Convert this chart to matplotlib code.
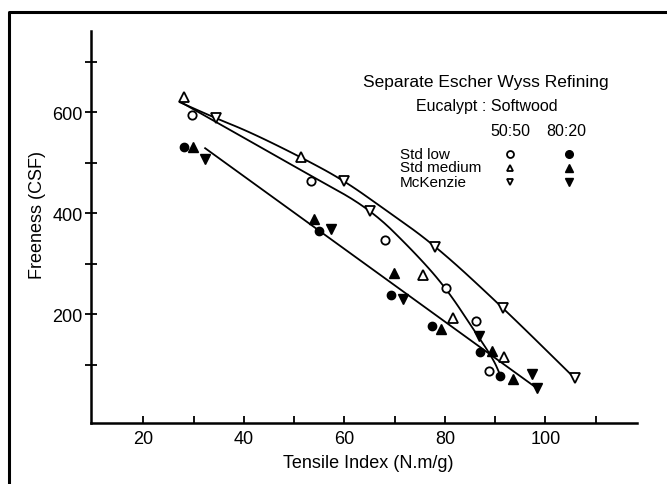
import matplotlib
matplotlib.use("Agg")
import matplotlib.pyplot as plt
from matplotlib.lines import Line2D
import numpy as np

plt.rcParams['font.family'] = ['Liberation Sans', 'DejaVu Sans']

# points: tensile index (N.m/g), freeness (CSF)
std_low_50_x = [29.7, 53.3, 68.0, 80.2, 86.2, 88.8]
std_low_50_y = [595, 463, 347, 251, 186, 87]
std_med_50_x = [28.0, 51.4, 75.6, 81.6, 91.7]
std_med_50_y = [630, 511, 277, 193, 114]
mck_50_x = [34.5, 60.0, 65.1, 78.1, 91.5, 105.8]
mck_50_y = [589, 464, 404, 334, 213, 73]

std_low_80_x = [28.1, 55.0, 69.2, 77.5, 87.0, 91.0]
std_low_80_y = [531, 364, 237, 176, 124, 77]
std_med_80_x = [29.8, 54.0, 69.9, 79.3, 89.3, 93.5]
std_med_80_y = [532, 389, 282, 171, 127, 72]
mck_80_x = [32.3, 57.4, 71.7, 86.7, 97.3, 98.3]
mck_80_y = [508, 368, 230, 157, 81, 53]

# hand drawn fit lines, read as knots
curve_top_x = [27.3, 34.3, 41.2, 51.4, 59.9, 68.0, 78.1, 91.5, 105.8]
curve_top_y = [620, 589, 561, 511, 465, 408, 336, 213, 73]
curve_mid_x = [27.7, 41.2, 53.4, 65.1, 74.1, 80.2, 86.0, 89.6, 91.0]
curve_mid_y = [619, 543, 474, 409, 321, 252, 165, 111, 79]
curve_low_x = [32.3, 98.3]
curve_low_y = [529, 53]

x_ticks = [20, 30, 40, 50, 60, 70, 80, 90, 100, 110]
x_labels = ['20', '', '40', '', '60', '', '80', '', '100', '']
y_ticks = [100, 200, 300, 400, 500, 600, 700]
y_labels = ['', '200', '', '400', '', '600', '']

W, H = 667, 485
def fx(px):
    return px / W
def fy(py):
    return 1 - py / H

def chaikin(xs, ys, n=3):
    # corner cutting so the drawn curve has no kinks, ends kept
    p = np.column_stack([xs, ys]).astype(float)
    for _ in range(n):
        q = [p[0]]
        for a, b in zip(p[:-1], p[1:]):
            q.append(0.75 * a + 0.25 * b)
            q.append(0.25 * a + 0.75 * b)
        q.append(p[-1])
        p = np.array(q)
    return p[:, 0], p[:, 1]

fig = plt.figure(figsize=(W / 100, H / 100), dpi=100)
ax = fig.add_axes([fx(91), fy(424.3), (637 - 91) / W, (424.3 - 31.7) / H])

for cx, cy in [(curve_top_x, curve_top_y), (curve_mid_x, curve_mid_y),
               (curve_low_x, curve_low_y)]:
    sx, sy = chaikin(cx, cy)
    ax.plot(sx, sy, color='black', lw=1.3, zorder=2)

ms = 6.5
ax.plot(std_low_50_x, std_low_50_y, 'o', mfc='white', mec='black', mew=1.3, ms=ms - 0.5, zorder=3)
ax.plot(std_med_50_x, std_med_50_y, '^', mfc='white', mec='black', mew=1.3, ms=ms, zorder=3)
ax.plot(mck_50_x, mck_50_y, 'v', mfc='white', mec='black', mew=1.3, ms=ms, zorder=3)
ax.plot(std_low_80_x, std_low_80_y, 'o', color='black', ms=ms - 0.5, zorder=3)
ax.plot(std_med_80_x, std_med_80_y, '^', color='black', ms=ms, zorder=3)
ax.plot(mck_80_x, mck_80_y, 'v', color='black', ms=ms, zorder=3)

ax.set_xlim(9.6, 118.2)
ax.set_ylim(-16.5, 762)
ax.spines['top'].set_visible(False)
ax.spines['right'].set_visible(False)
for s in ['left', 'bottom']:
    ax.spines[s].set_linewidth(1.8)
ax.set_xticks(x_ticks)
ax.set_xticklabels(x_labels)
ax.set_yticks(y_ticks)
ax.set_yticklabels(y_labels)
ax.tick_params(axis='x', direction='in', length=5, width=1.3, pad=5, labelsize=13)
ax.tick_params(axis='y', direction='inout', length=8, width=1.3, pad=2, labelsize=13)

fig.text(fx(368), fy(463), 'Tensile Index (N.m/g)', ha='center', va='center', fontsize=13)
fig.text(fx(38), fy(215), 'Freeness (CSF)', ha='center', va='center', rotation=90, fontsize=13)

# legend block
fig.text(fx(486), fy(83), 'Separate Escher Wyss Refining', ha='center', va='center', fontsize=12.5)
fig.text(fx(487), fy(107), 'Eucalypt : Softwood', ha='center', va='center', fontsize=11.5)
fig.text(fx(510), fy(132), '50:50', ha='center', va='center', fontsize=11.5)
fig.text(fx(566), fy(132), '80:20', ha='center', va='center', fontsize=11.5)
rows = [('Std low', 'o', 155), ('Std medium', '^', 168.5), ('McKenzie', 'v', 183)]
for name, mk, py in rows:
    fig.text(fx(400), fy(py), name, ha='left', va='center', fontsize=11)
    fig.add_artist(Line2D([fx(510)], [fy(py)], marker=mk, ls='none', mfc='white',
                          mec='black', mew=1.3, ms=5, transform=fig.transFigure))
    fig.add_artist(Line2D([fx(569)], [fy(py)], marker=mk, ls='none', color='black',
                          ms=5.5, transform=fig.transFigure))

# page frame from the scan
fig.add_artist(Line2D([fx(9), fx(9), fx(667)], [fy(485), fy(12.5), fy(12.5)],
                      color='black', lw=2.2, transform=fig.transFigure))

fig.savefig('out.png', dpi=100)
